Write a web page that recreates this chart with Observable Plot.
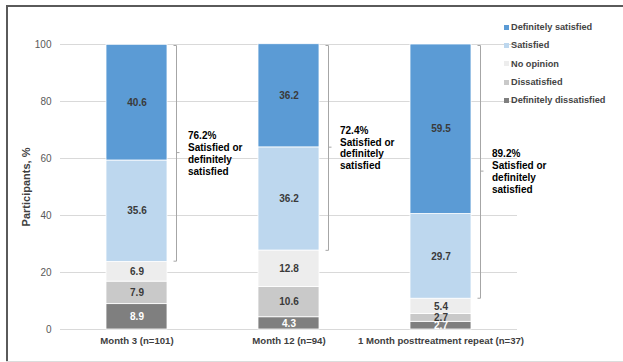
<!DOCTYPE html>
<html>
<head>
<meta charset="utf-8">
<script src="https://cdn.jsdelivr.net/npm/d3@7"></script>
<script src="https://cdn.jsdelivr.net/npm/@observablehq/plot@0.6"></script>
<style>
  body { margin: 0; background: #fff; font-family: "Liberation Sans", Arial, sans-serif; }
  #chart { position: relative; width: 623px; height: 362px; overflow: hidden; }
  #chart svg { position: absolute; left: 0; top: 0; }
  .frame-top { position: absolute; left: 6px; top: 5px; right: 0; height: 2px; background: #5a5a5a; }
  .frame-left { position: absolute; left: 6px; top: 5px; bottom: 0; width: 2px; background: #5a5a5a; }
  .frame-bottom { position: absolute; left: 6px; right: 0; bottom: 0; height: 1px; background: #dcdcdc; }
  #legend { position: absolute; left: 504px; top: 18px; }
  .item { display: flex; align-items: center; height: 18.3px; font-size: 9.2px; font-weight: bold; color: #444; white-space: nowrap; }
  .sw { width: 5px; height: 5px; margin-right: 2px; }
  g[aria-label="x-axis tick label"] text { font-weight: bold; font-size: 9.6px; fill: #404040; }
  g[aria-label="y-axis tick label"] text { font-size: 10px; fill: #595959; }
  g[aria-label="y-axis label"] text { font-weight: bold; font-size: 11px; fill: #404040; }
</style>
</head>
<body>
<div id="chart">
  <div class="frame-top"></div>
  <div class="frame-left"></div>
  <div class="frame-bottom"></div>
  <div id="legend"></div>
</div>
<script>
// Assessment time points (x categories)
const periods = ["Month 3 (n=101)", "Month 12 (n=94)", "1 Month posttreatment repeat (n=37)"];

// Response categories, stacked from the bottom up
const responses = ["Definitely dissatisfied", "Dissatisfied", "No opinion", "Satisfied", "Definitely satisfied"];
const responseColors = ["#7f7f7f", "#c9c9c9", "#ededed", "#bdd7ee", "#5b9bd5"];

// Percent of participants per response, one value per time point
const definitelyDissatisfied = [8.9, 4.3, 2.7];
const dissatisfied = [7.9, 10.6, 2.7];
const noOpinion = [6.9, 12.8, 5.4];
const satisfied = [35.6, 36.2, 29.7];
const definitelySatisfied = [40.6, 36.2, 59.5];

// Combined "satisfied or definitely satisfied" share per time point
const satisfiedTotals = [76.2, 72.4, 89.2];

const yTicks = [0, 20, 40, 60, 80, 100];

const series = [definitelyDissatisfied, dissatisfied, noOpinion, satisfied, definitelySatisfied];
const rows = periods.flatMap((period, i) =>
  responses.map((response, j) => ({period, response, value: series[j][i]}))
);
const brackets = periods.map((period, i) => ({
  period,
  total: satisfiedTotals[i],
  low: 100 - satisfiedTotals[i],
  mid: 100 - satisfiedTotals[i] / 2
}));

const braceOffset = 39.5;

// Curly-brace style bracket spanning the satisfied share of each bar
function braces(index, scales) {
  const {x, y} = scales;
  const bw = typeof x.bandwidth === "function" ? x.bandwidth() : (x.bandwidth || 0);
  const g = d3.create("svg:g")
    .attr("fill", "none")
    .attr("stroke", "#a6a6a6")
    .attr("stroke-width", 1);
  for (const b of brackets) {
    const bx = Math.round(x(b.period) + bw / 2 + braceOffset) + 0.5;
    const top = y(100) + 1.5;
    const bottom = y(b.low);
    const mid = y(b.mid);
    g.append("path").attr("d",
      `M${bx - 3},${top}H${bx}V${bottom}H${bx - 3}M${bx},${mid}H${bx + 3}`);
  }
  return g.node();
}

const isDark = d => d.response === "Definitely dissatisfied";
const fmt = d => d.value.toFixed(1);

const chart = Plot.plot({
  width: 623,
  height: 362,
  marginTop: 44,
  marginBottom: 33,
  marginLeft: 60,
  marginRight: 106,
  style: {fontFamily: "Liberation Sans, Arial, sans-serif", fontSize: "10px", background: "transparent"},
  x: {domain: periods, paddingInner: 0.6, paddingOuter: 0.3},
  y: {domain: [0, 100]},
  color: {domain: responses, range: responseColors},
  marks: [
    Plot.gridY(yTicks, {stroke: "#d9d9d9", strokeOpacity: 1}),
    Plot.axisY(yTicks, {
      tickSize: 0, tickPadding: 9,
      label: "Participants, %", labelAnchor: "center", labelOffset: 38, labelArrow: "none"
    }),
    Plot.axisX({tickSize: 0, tickPadding: 8, label: null}),
    Plot.barY(rows, Plot.stackY({x: "period", y: "value", fill: "response", stroke: "white", strokeWidth: 0.8})),
    Plot.text(rows, Plot.stackY({
      x: "period", y: "value",
      text: d => isDark(d) ? null : fmt(d),
      fill: "#3a3a3a", fontWeight: "bold", fontSize: 10
    })),
    Plot.text(rows, Plot.stackY({
      x: "period", y: "value",
      text: d => isDark(d) ? fmt(d) : null,
      fill: "white", fontWeight: "bold", fontSize: 10
    })),
    braces,
    Plot.text(brackets, {
      x: "period", y: "mid",
      text: d => `${d.total.toFixed(1)}%\nSatisfied or\ndefinitely\nsatisfied`,
      dx: 51, textAnchor: "start", lineAnchor: "middle", lineHeight: 1.2,
      fontWeight: "bold", fontSize: 10, fill: "black"
    })
  ]
});

const root = document.getElementById("chart");
root.insertBefore(chart, root.firstChild);

// Legend listed top-down, matching the stacking order
const legend = d3.select("#legend");
responses.slice().reverse().forEach(r => {
  const item = legend.append("div").attr("class", "item");
  item.append("div").attr("class", "sw").style("background", responseColors[responses.indexOf(r)]);
  item.append("span").text(r);
});
</script>
</body>
</html>
